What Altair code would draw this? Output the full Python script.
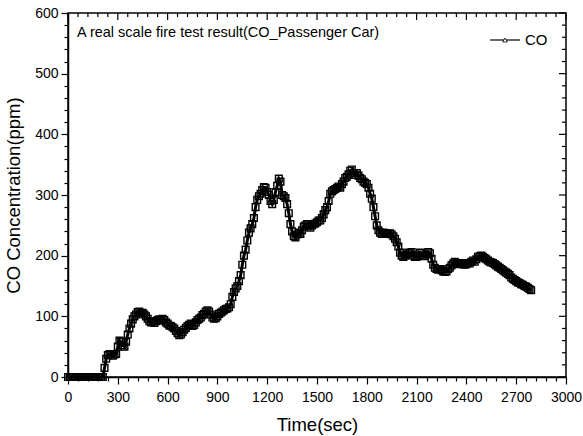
import altair as alt
import pandas as pd

# ---- data ----
time_sec = list(range(0, 2800, 10))
co_ppm = [
    0, 0, 0, 0, 0, 0, 0, 0, 0, 0,
    0, 0, 0, 0, 0, 0, 0, 0, 0, 0,
    0, 0, 15, 30, 36, 38, 37, 35, 37, 38,
    50, 60, 58, 52, 50, 58, 70, 80, 88, 95,
    100, 103, 107, 108, 105, 106, 103, 100, 96, 92,
    90, 91, 89, 92, 94, 95, 93, 96, 94, 90,
    88, 85, 84, 82, 80, 76, 72, 69, 70, 74,
    78, 81, 84, 86, 88, 84, 86, 90, 94, 96,
    98, 102, 104, 108, 110, 108, 103, 98, 96, 97,
    100, 104, 106, 108, 110, 112, 113, 115, 120, 132,
    140, 146, 150, 158, 168, 185, 200, 210, 225, 238,
    245, 252, 262, 280, 292, 298, 302, 308, 313, 312,
    305, 300, 290, 285, 292, 305, 315, 327, 322, 300,
    298, 295, 285, 270, 252, 240, 232, 230, 235, 238,
    236, 242, 248, 250, 252, 248, 246, 250, 252, 253,
    255, 258, 258, 262, 268, 275, 280, 290, 302, 306,
    308, 310, 312, 314, 312, 318, 322, 328, 330, 334,
    340, 342, 336, 333, 336, 332, 328, 326, 322, 320,
    318, 312, 302, 294, 280, 265, 250, 242, 238, 236,
    238, 236, 237, 236, 237, 235, 232, 228, 222, 215,
    205, 200, 198, 200, 202, 205, 204, 206, 200, 198,
    198, 200, 205, 204, 200, 199, 202, 206, 204, 195,
    185, 180, 178, 177, 178, 176, 174, 173, 174, 178,
    180, 184, 187, 190, 188, 186, 187, 188, 186, 185,
    186, 188, 187, 190, 192, 190, 194, 198, 199, 200,
    198, 196, 194, 192, 190, 189, 188, 186, 184, 182,
    180, 178, 176, 174, 172, 170, 168, 164, 162, 160,
    158, 156, 155, 153, 152, 150, 149, 147, 145, 143,
]
assert len(co_ppm) == len(time_sec)

x_ticks = list(range(0, 3001, 60))
y_ticks = list(range(0, 601, 20))
title_text = "A real scale fire test result(CO_Passenger Car)"
legend_label = "CO"

FONT = "Liberation Sans"
W, H = 498, 364

df = pd.DataFrame({"t": time_sec, "co": co_ppm})
xs = alt.Scale(domain=[0, 3000], nice=False, zero=False)
ys = alt.Scale(domain=[0, 600], nice=False, zero=False)

x_axis = alt.Axis(
    values=x_ticks, format="d", title="Time(sec)",
    labelExpr="datum.value % 300 === 0 ? datum.label : ''",
    tickSize={"condition": {"test": "datum.value % 300 === 0", "value": 7}, "value": 4},
    labelOverlap=False, labelFlush=False, grid=False,
    domainColor="black", domainWidth=1.5, tickColor="black", tickWidth=1.2,
    labelFont=FONT, labelFontSize=14, labelColor="black", labelPadding=6,
    titleFont=FONT, titleFontSize=18.5, titleFontWeight="normal", titleColor="black",
    titlePadding=11,
)
y_axis = alt.Axis(
    values=y_ticks, format="d", title="CO Concentration(ppm)",
    labelExpr="datum.value % 100 === 0 ? datum.label : ''",
    tickSize={"condition": {"test": "datum.value % 100 === 0", "value": 7}, "value": 4},
    labelOverlap=False, labelFlush=False, grid=False,
    domainColor="black", domainWidth=1.5, tickColor="black", tickWidth=1.2,
    labelFont=FONT, labelFontSize=14, labelColor="black", labelPadding=3,
    titleFont=FONT, titleFontSize=18.5, titleFontWeight="normal", titleColor="black",
    titlePadding=11,
)


def X(field):
    return alt.X(field, scale=xs, axis=x_axis)


def Y(field):
    return alt.Y(field, scale=ys, axis=y_axis)


base = alt.Chart(df)
line = base.mark_line(color="black", strokeWidth=3).encode(x=X("t:Q"), y=Y("co:Q"))
pts = base.mark_point(shape="square", size=45, filled=False,
                      stroke="black", strokeWidth=1.4, opacity=1).encode(
    x=X("t:Q"), y=Y("co:Q"))

# inward ticks on the top and right frame
xt = pd.DataFrame({"v": x_ticks})
xt["major"] = xt["v"] % 300 == 0
yt = pd.DataFrame({"v": y_ticks})
yt["major"] = yt["v"] % 100 == 0

top_major = alt.Chart(xt[xt.major]).mark_rule(color="black", strokeWidth=1.2).encode(
    x=X("v:Q"), y=alt.value(0), y2=alt.value(7))
top_minor = alt.Chart(xt[~xt.major]).mark_rule(color="black", strokeWidth=1.2).encode(
    x=X("v:Q"), y=alt.value(0), y2=alt.value(4))
right_major = alt.Chart(yt[yt.major]).mark_rule(color="black", strokeWidth=1.2).encode(
    y=Y("v:Q"), x=alt.value(W), x2=alt.value(W - 7))
right_minor = alt.Chart(yt[~yt.major]).mark_rule(color="black", strokeWidth=1.2).encode(
    y=Y("v:Q"), x=alt.value(W), x2=alt.value(W - 4))

one = pd.DataFrame({"a": [0]})
title = alt.Chart(one).mark_text(align="left", baseline="middle", font=FONT,
                                 fontSize=14.5, color="black").encode(
    x=alt.value(9), y=alt.value(20), text=alt.value(title_text))
leg_line = alt.Chart(one).mark_rule(color="black", strokeWidth=1.2).encode(
    x=alt.value(422), x2=alt.value(452), y=alt.value(27))
leg_sym = alt.Chart(one).mark_point(shape="triangle-up", size=22, filled=True,
                                    fill="white", stroke="black", strokeWidth=0.8,
                                    opacity=1).encode(
    x=alt.value(437), y=alt.value(27))
leg_text = alt.Chart(one).mark_text(align="left", baseline="middle", font=FONT,
                                    fontSize=15, color="black").encode(
    x=alt.value(457), y=alt.value(27), text=alt.value(legend_label))

chart = alt.layer(
    line, pts, top_major, top_minor, right_major, right_minor,
    title, leg_line, leg_sym, leg_text,
).properties(
    width=W, height=H,
    autosize=alt.AutoSizeParams(type="none"),
    padding={"left": 68, "top": 13, "right": 17, "bottom": 59},
    background="white",
).configure_view(stroke="black", strokeWidth=1.5)

chart.save("out.html", embed_options={"renderer": "svg", "actions": False})
